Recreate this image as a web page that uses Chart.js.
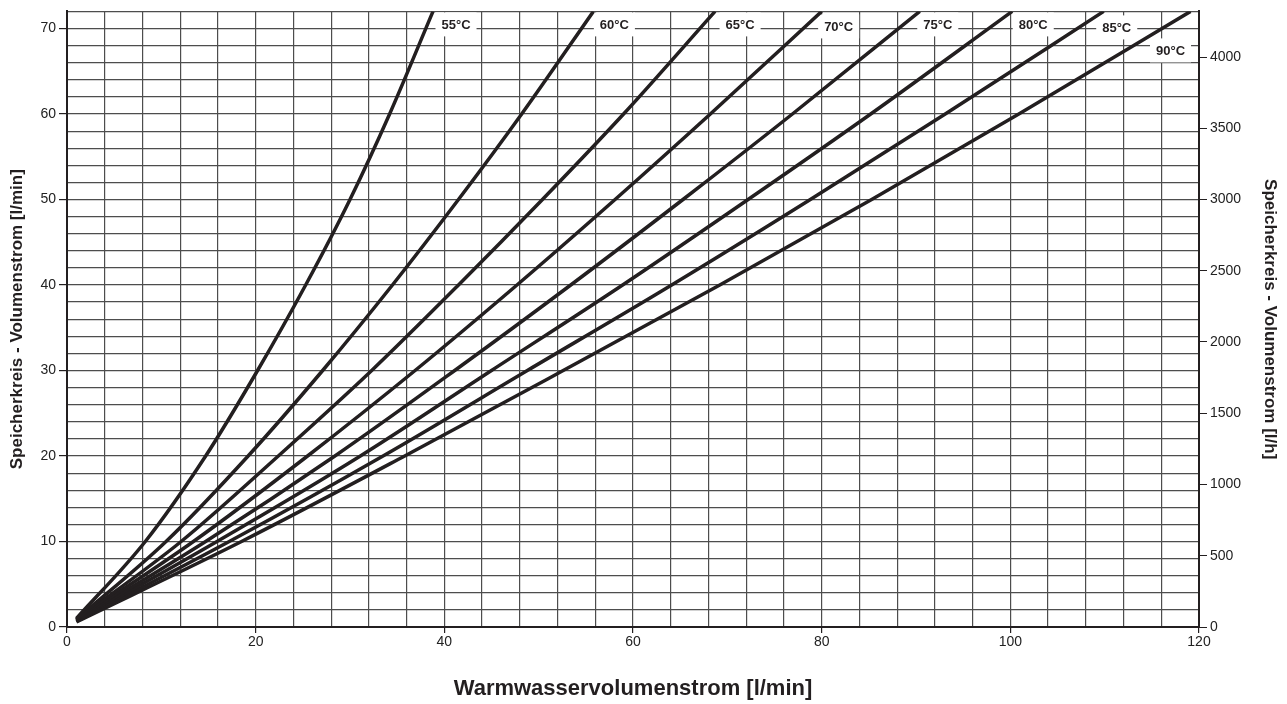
<!DOCTYPE html>
<html lang="de">
<head>
<meta charset="UTF-8">
<title>Speicherkreis - Volumenstrom</title>
<script src="https://cdn.jsdelivr.net/npm/chart.js"></script>
</head>
<body style="margin:0; background:#fff;">
<div style="width:1287px; height:704px; position:relative;">
    <canvas id="chart"></canvas>
</div>
<script>
    // Warmwasservolumenstrom [l/min] / Speicherkreis-Volumenstrom [l/min] je Vorlauftemperatur
    const tempLabels = ['55°C', '60°C', '65°C', '70°C', '75°C', '80°C', '85°C', '90°C'];
    const curve55 = [[1, 1.0], [8.3, 10], [14.7, 20], [20.2, 30], [25.3, 40], [30.0, 50], [34.2, 60], [38.8, 72]];
    const curve60 = [[1, 0.9], [10.5, 10], [19.2, 20], [27.1, 30], [34.5, 40], [41.5, 50], [48.2, 60], [55.8, 72]];
    const curve65 = [[1, 0.85], [12.1, 10], [22.4, 20], [32.3, 30], [41.5, 40], [50.4, 50], [59.0, 60], [68.7, 72]];
    const curve70 = [[1, 0.8], [13.4, 10], [25.5, 20], [36.9, 30], [47.7, 40], [58.1, 50], [68.2, 60], [80.0, 72]];
    const curve75 = [[1, 0.75], [14.7, 10], [28.4, 20], [41.1, 30], [53.4, 40], [65.3, 50], [76.9, 60], [90.4, 72]];
    const curve80 = [[1, 0.7], [15.9, 10], [31.1, 20], [45.0, 30], [58.9, 40], [72.2, 50], [85.2, 60], [100.2, 72]];
    const curve85 = [[1, 0.65], [17.2, 10], [33.5, 20], [48.8, 30], [64.1, 40], [78.8, 50], [93.1, 60], [109.9, 72]];
    const curve90 = [[1, 0.6], [18.5, 10], [35.8, 20], [52.6, 30], [69.2, 40], [85.3, 50], [100.9, 60], [119.1, 72]];
    const curves = [curve55, curve60, curve65, curve70, curve75, curve80, curve85, curve90];

    const xMax = 120;
    const yMax = 72;       // l/min
    const hourFactor = 60; // l/min -> l/h

    const font = 'Liberation Sans, Arial, Helvetica, sans-serif';
    const ink = '#231f20';
    const gridCol = '#4d4d4d';

    // Temperaturbeschriftung am oberen Rand, mit weißem Hintergrund
    const labelOffsets = [[23, 14], [21, 14], [25, 14], [17, 16], [18, 14], [21, 14], [13, 17], [-20, 40]];
    const tempLabelPlugin = {
        id: 'tempLabels',
        beforeDatasetsDraw(chart) {
            const ctx = chart.ctx;
            const xs = chart.scales.x, ys = chart.scales.y;
            const area = chart.chartArea;
            ctx.save();
            ctx.font = 'bold 13px ' + font;
            ctx.textAlign = 'center';
            ctx.textBaseline = 'middle';
            chart.data.datasets.forEach((ds, i) => {
                const end = ds.data[ds.data.length - 1];
                const cx = xs.getPixelForValue(end.x) + labelOffsets[i][0];
                const cy = ys.getPixelForValue(end.y) + labelOffsets[i][1];
                const w = ctx.measureText(tempLabels[i]).width + 12;
                const left = cx - w / 2;
                const top = Math.max(area.top + 1, cy - 13);
                ctx.fillStyle = '#fff';
                ctx.fillRect(left, top, Math.min(w, area.right - 2 - left), cy + 11 - top);
                ctx.fillStyle = ink;
                ctx.fillText(tempLabels[i], cx, cy);
            });
            ctx.restore();
        }
    };

    const datasets = curves.map((c, i) => ({
        label: tempLabels[i],
        data: c.map(p => ({ x: p[0], y: p[1] })),
        borderColor: ink,
        borderWidth: 3.5,
        pointRadius: 0,
        cubicInterpolationMode: 'monotone',
        fill: false,
        yAxisID: 'y'
    }));

    const tickMarks = step => c => (c.tick && c.tick.value % step === 0) ? ink : 'rgba(0,0,0,0)';
    const tickFont = { family: font, size: 14 };

    new Chart(document.getElementById('chart'), {
        type: 'line',
        data: { datasets },
        options: {
            responsive: true,
            maintainAspectRatio: false,
            animation: false,
            layout: { padding: { top: 6, left: 0, right: 0, bottom: 0 } },
            plugins: {
                legend: { display: false },
                tooltip: { enabled: false }
            },
            scales: {
                x: {
                    type: 'linear',
                    min: 0,
                    max: xMax,
                    afterFit: s => { s.height = 77; },
                    border: { color: ink, width: 2 },
                    grid: { color: gridCol, lineWidth: 1.2, tickLength: 6, tickColor: tickMarks(20) },
                    ticks: {
                        stepSize: 4,
                        autoSkip: false,
                        maxRotation: 0,
                        padding: 1,
                        color: '#222',
                        font: tickFont,
                        callback: v => v % 20 === 0 ? v : ''
                    },
                    title: {
                        display: true,
                        text: 'Warmwasservolumenstrom [l/min]',
                        color: ink,
                        font: { family: font, size: 22, weight: 'bold' },
                        padding: { top: 0, bottom: 2 }
                    }
                },
                y: {
                    position: 'left',
                    min: 0,
                    max: yMax,
                    afterFit: s => { s.width = 67; },
                    border: { color: ink, width: 2 },
                    grid: { color: gridCol, lineWidth: 1.2, tickLength: 8, tickColor: tickMarks(10) },
                    ticks: {
                        stepSize: 2,
                        autoSkip: false,
                        padding: 3,
                        color: '#222',
                        font: tickFont,
                        callback: v => v % 10 === 0 ? v : ''
                    },
                    title: {
                        display: true,
                        text: 'Speicherkreis - Volumenstrom [l/min]',
                        color: ink,
                        font: { family: font, size: 17, weight: 'bold' },
                        padding: { top: 7, bottom: 0 }
                    }
                },
                yh: {
                    position: 'right',
                    min: 0,
                    max: yMax * hourFactor,
                    afterFit: s => { s.width = 88; },
                    border: { color: ink, width: 2 },
                    grid: { drawOnChartArea: false, tickLength: 8, tickColor: tickMarks(500) },
                    ticks: {
                        stepSize: 100,
                        autoSkip: false,
                        padding: 3,
                        color: '#222',
                        font: tickFont,
                        callback: v => v % 500 === 0 ? v : ''
                    },
                    title: {
                        display: true,
                        text: 'Speicherkreis - Volumenstrom [l/h]',
                        color: ink,
                        font: { family: font, size: 17, weight: 'bold' },
                        padding: { top: 7, bottom: 0 }
                    }
                }
            }
        },
        plugins: [tempLabelPlugin]
    });
</script>
</body>
</html>
